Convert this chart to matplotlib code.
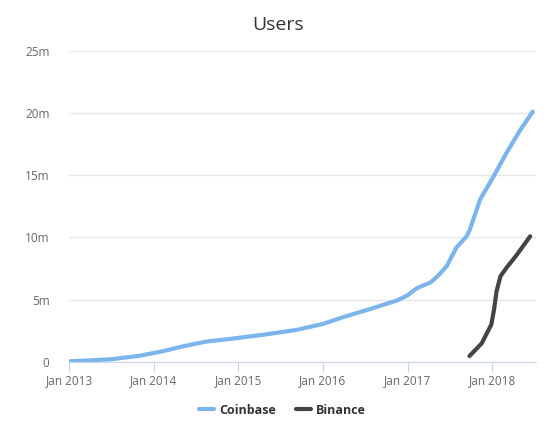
import numpy as np
import pandas as pd
import matplotlib
matplotlib.use('Agg')
import matplotlib.pyplot as plt
import matplotlib.dates as mdates
from matplotlib.ticker import FuncFormatter, MultipleLocator

plt.rcParams['font.family'] = ['Open Sans', 'DejaVu Sans']

# users in millions
coinbase_dates = pd.to_datetime([
    '2013-01-01', '2013-07-01', '2013-11-01', '2014-02-01', '2014-05-01',
    '2014-08-15', '2014-11-25', '2015-04-15', '2015-09-10', '2016-01-01',
    '2016-03-28', '2016-07-22', '2016-11-15', '2016-12-28', '2017-02-10',
    '2017-04-10', '2017-05-10', '2017-06-18', '2017-07-30', '2017-09-12',
    '2017-09-25', '2017-11-10', '2017-12-31', '2018-03-03', '2018-04-30',
    '2018-06-24'])
coinbase_users = [
    0.05, 0.22, 0.5, 0.83, 1.23,
    1.64, 1.85, 2.18, 2.58, 3.06,
    3.6, 4.25, 4.94, 5.32, 5.94,
    6.4, 6.9, 7.7, 9.2, 10.1,
    10.6, 13.1, 14.7, 16.8, 18.6,
    20.1]

binance_dates = pd.to_datetime([
    '2017-09-24', '2017-11-16', '2017-12-27', '2018-01-08', '2018-01-19',
    '2018-02-05', '2018-03-04', '2018-04-16', '2018-06-13'])
binance_users = [0.48, 1.5, 3.0, 4.2, 5.7, 6.9, 7.6, 8.6, 10.1]

fig = plt.figure(figsize=(5.57, 4.36), dpi=100)
ax = fig.add_axes([0.1239, 0.1697, 0.8384, 0.714])

ax.plot(coinbase_dates, coinbase_users, color='#7cb5ec', lw=3,
        solid_capstyle='round', solid_joinstyle='round', label='Coinbase')
ax.plot(binance_dates, binance_users, color='#434348', lw=3,
        solid_capstyle='round', solid_joinstyle='round', label='Binance')

ax.set_xlim(pd.Timestamp('2013-01-01'), pd.Timestamp('2018-07-08'))
ax.set_ylim(0, 25)
ax.yaxis.set_major_locator(MultipleLocator(5))
ax.yaxis.set_major_formatter(FuncFormatter(
    lambda v, p: '0' if v == 0 else '{:.0f}m'.format(v)))
ax.xaxis.set_major_locator(mdates.YearLocator())
ax.xaxis.set_major_formatter(mdates.DateFormatter('Jan %Y'))

ax.grid(axis='y', color='#e6e6e6', lw=1)
ax.set_axisbelow(True)
for s in ['top', 'right', 'left']:
    ax.spines[s].set_visible(False)
ax.spines['bottom'].set_color('#ccd6eb')
ax.tick_params(axis='x', colors='#ccd6eb', length=7, labelcolor='#666666',
               labelsize=8.5, pad=2)
ax.tick_params(axis='y', length=0, labelcolor='#666666', labelsize=8.5, pad=14)

fig.text(0.5, 1 - 25 / 436, 'Users', ha='center', va='center',
         fontsize=14, color='#333333')

fig.legend(loc='center', bbox_to_anchor=(0.507, 1 - 410 / 436), ncol=2,
           frameon=False, handlelength=1.2, handletextpad=0.4,
           columnspacing=1.6, prop={'weight': 'bold', 'size': 9},
           labelcolor='#333333')

fig.savefig('out.png', dpi=100)
